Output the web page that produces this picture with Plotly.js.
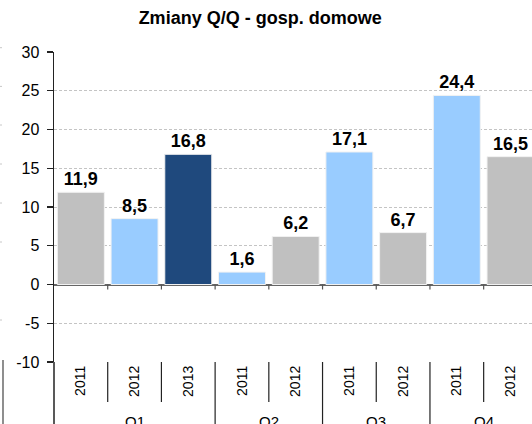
<!DOCTYPE html>
<html>
<head>
<meta charset="utf-8">
<script src="https://cdn.plot.ly/plotly-3.0.1.min.js"></script>
<style>html,body{margin:0;padding:0;background:#fff;}#chart{width:532px;height:424px;}</style>
</head>
<body>
<div id="chart"></div>
<script>
// ---- data ----
const quarters = ['Q1','Q1','Q1','Q2','Q2','Q3','Q3','Q4','Q4'];
const years    = ['2011','2012','2013','2011','2012','2011','2012','2011','2012'];
const values   = [11.9, 8.5, 16.8, 1.6, 6.2, 17.1, 6.7, 24.4, 16.5];
const yTicks   = [-10, -5, 0, 5, 10, 15, 20, 25, 30];

// ---- styles ----
const GRAY = '#c0c0c0', LIGHT = '#99ccff', DARK = '#1f497d';
const barColors = [GRAY, LIGHT, DARK, LIGHT, GRAY, LIGHT, GRAY, LIGHT, GRAY];
const FONT = 'Liberation Sans, Arial, sans-serif';

const W = 532, H = 424, ML = 54, MT = 52, MB = 62, MR = 0;
const plotW = W - ML - MR, plotH = H - MT - MB;
const px = x => (x - ML) / plotW;
const py = y => (H - MB - y) / plotH;

const keys = quarters.map((q, i) => q + ' ' + years[i]);

const shapes = [];
// separators below the plot area
for (let i = 0; i < keys.length - 1; i++) {
  const groupEnd = quarters[i] !== quarters[i + 1];
  shapes.push({type:'line', xref:'x', yref:'paper', ysizemode:'pixel', yanchor:0,
    x0:i + 0.5, x1:i + 0.5, y0:0, y1: groupEnd ? -70 : -40,
    line:{color:'#222', width:1.2}});
  // small ticks below zero line
  shapes.push({type:'line', xref:'x', yref:'y', ysizemode:'pixel', yanchor:0,
    x0:i + 0.5, x1:i + 0.5, y0:0, y1:-5,
    line:{color:'#555', width:1.2}});
}
// y axis extension below plot
shapes.push({type:'line', xref:'paper', yref:'paper', x0:0, x1:0, y0:0, y1:py(H + 5),
  line:{color:'#222', width:1.5}});
// remnants of neighbouring chart on the left edge
[47.7, 86.4, 125, 164, 203, 242, 320].forEach(y => shapes.push({type:'line', xref:'paper', yref:'paper',
  x0:px(0), x1:px(4), y0:py(y), y1:py(y), line:{color:'#c8c8c8', width:1, dash:'2px,2px'}}));
shapes.push({type:'line', xref:'paper', yref:'paper', x0:px(3), x1:px(3), y0:py(360), y1:py(H + 5),
  line:{color:'#444', width:1.2}});

// quarter labels
const annotations = [];
const groups = [];
quarters.forEach((q, i) => {
  if (!groups.length || groups[groups.length - 1].q !== q) groups.push({q, s:i, e:i});
  else groups[groups.length - 1].e = i;
});
groups.forEach(g => annotations.push({xref:'x', yref:'paper', x:(g.s + g.e) / 2, y:0, yshift:-49,
  yanchor:'top', showarrow:false, text:g.q, font:{family:FONT, size:15, color:'#000'}}));

const trace = {
  type:'bar', x:keys, y:values,
  marker:{color:barColors, line:{color:'#f2f2f2', width:1}},
  text: values.map(v => v.toFixed(1).replace('.', ',')),
  textposition:'outside', cliponaxis:false,
  textfont:{family:FONT, size:18, color:'#000', weight:'bold'},
  hoverinfo:'skip'
};

const layout = {
  width:W, height:H,
  margin:{l:ML, r:MR, t:MT, b:MB, pad:0},
  paper_bgcolor:'#fff', plot_bgcolor:'#fff',
  showlegend:false, bargap:0.125,
  title:{text:'Zmiany Q/Q - gosp. domowe', xref:'container', x:0.489, yref:'container', y:1 - 18 / H,
    xanchor:'center', yanchor:'middle', font:{family:FONT, size:18, color:'#000', weight:'bold'}},
  xaxis:{type:'category', categoryarray:keys, categoryorder:'array', range:[-0.5, 8.4],
    tickvals:keys, ticktext:years, tickangle:-90, ticks:'', showgrid:false, zeroline:false, showline:false,
    tickfont:{family:FONT, size:14, color:'#000'}, fixedrange:true},
  yaxis:{range:[-10, 30], tickvals:yTicks, ticktext:yTicks.map(String), showline:true, linecolor:'#222', linewidth:1.5,
    ticks:'outside', ticklen:6, tickcolor:'#222', tickwidth:1.2, ticklabelstandoff:4,
    showgrid:true, gridcolor:'#c4c4c4', griddash:'3px,2px', gridwidth:1,
    zeroline:true, zerolinecolor:'#666', zerolinewidth:2,
    tickfont:{family:FONT, size:16, color:'#000'}, fixedrange:true},
  shapes, annotations,
  separators:', '
};

Plotly.newPlot('chart', [trace], layout, {displayModeBar:false, staticPlot:true});
</script>
</body>
</html>
